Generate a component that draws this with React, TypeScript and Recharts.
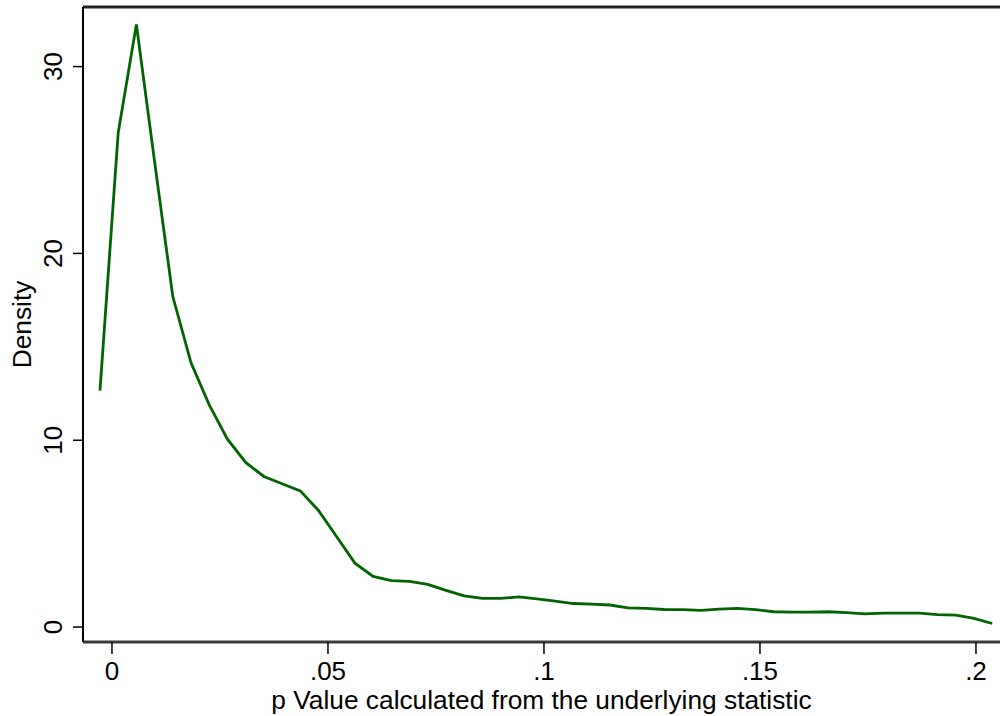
import React from 'react';
import { LineChart, Line, XAxis, YAxis, ReferenceLine } from 'recharts';

// kernel density estimate, 50 evaluation points
const P_VALUES = [
  -0.00278, 0.00144, 0.00565, 0.00987, 0.01408, 0.0183, 0.02251, 0.02673, 0.03094, 0.03516,
  0.03937, 0.04359, 0.0478, 0.05202, 0.05623, 0.06045, 0.06466, 0.06888, 0.07309, 0.07731,
  0.08152, 0.08574, 0.08995, 0.09417, 0.09838, 0.1026, 0.10681, 0.11103, 0.11524, 0.11946,
  0.12367, 0.12789, 0.1321, 0.13632, 0.14053, 0.14475, 0.14896, 0.15318, 0.15739, 0.16161,
  0.16582, 0.17004, 0.17425, 0.17847, 0.18268, 0.1869, 0.19111, 0.19533, 0.19954, 0.20376,
];

const DENSITY = [
  12.66, 26.46, 32.26, 24.9, 17.69, 14.14, 11.89, 10.06, 8.81, 8.06,
  7.67, 7.29, 6.24, 4.83, 3.42, 2.71, 2.48, 2.44, 2.28, 1.96,
  1.67, 1.53, 1.53, 1.61, 1.51, 1.39, 1.26, 1.23, 1.18, 1.03,
  1.0, 0.94, 0.93, 0.89, 0.96, 1.0, 0.93, 0.82, 0.8, 0.8,
  0.82, 0.77, 0.71, 0.75, 0.75, 0.75, 0.67, 0.64, 0.46, 0.19,
];

const X_TICKS = [0, 0.05, 0.1, 0.15, 0.2];
const Y_TICKS = [0, 10, 20, 30];

const X_DOMAIN: [number, number] = [-0.00671, 0.20556];
const Y_DOMAIN: [number, number] = [-0.8, 33.19];

const data = P_VALUES.map((p, i) => ({ p, density: DENSITY[i] }));

const FONT = '"Liberation Sans", Arial, Helvetica, sans-serif';
const FONT_SIZE = 26;

const fmtX = (v: number) => (v === 0 ? '0' : String(v).replace(/^0\./, '.'));

const XTick = (props: any) => {
  const { x, y, payload } = props;
  return (
    <text x={x} y={y} dy={26} textAnchor="middle" fill="#000" fontFamily={FONT} fontSize={FONT_SIZE}>
      {fmtX(payload.value)}
    </text>
  );
};

const YTick = (props: any) => {
  const { x, y, payload } = props;
  const tx = x - 11;
  return (
    <text
      x={tx}
      y={y}
      textAnchor="middle"
      transform={`rotate(-90, ${tx}, ${y})`}
      fill="#000"
      fontFamily={FONT}
      fontSize={FONT_SIZE}
    >
      {payload.value}
    </text>
  );
};

const XTitle = (props: any) => {
  const { x, y, width } = props.viewBox;
  return (
    <text x={x + width / 2} y={y + 67} textAnchor="middle" fill="#000" fontFamily={FONT} fontSize={26.3}>
      p Value calculated from the underlying statistic
    </text>
  );
};

const YTitle = (props: any) => {
  const { x, y, height } = props.viewBox;
  const tx = x + 31;
  const ty = y + height / 2;
  return (
    <text
      x={tx}
      y={ty}
      textAnchor="middle"
      transform={`rotate(-90, ${tx}, ${ty})`}
      fill="#000"
      fontFamily={FONT}
      fontSize={26.3}
    >
      Density
    </text>
  );
};

export default function App() {
  return (
    <div style={{ width: 1000, height: 716, background: '#fff' }}>
      <style>{'body{margin:0}'}</style>
      <LineChart width={1000} height={716} data={data} margin={{ top: 7, right: 0, bottom: 0, left: 0 }}>
        <XAxis
          dataKey="p"
          type="number"
          domain={X_DOMAIN}
          ticks={X_TICKS}
          allowDataOverflow
          height={74}
          tickSize={12}
          tickMargin={0}
          tick={<XTick />}
          tickLine={{ stroke: '#000', strokeWidth: 1.5 }}
          axisLine={{ stroke: '#3a3a3a', strokeWidth: 3 }}
          label={<XTitle />}
        />
        <YAxis
          type="number"
          domain={Y_DOMAIN}
          ticks={Y_TICKS}
          allowDataOverflow
          width={83}
          tickSize={10}
          tickMargin={0}
          tick={<YTick />}
          tickLine={{ stroke: '#000', strokeWidth: 1.5 }}
          axisLine={{ stroke: '#000', strokeWidth: 2 }}
          label={<YTitle />}
        />
        <ReferenceLine y={Y_DOMAIN[1]} stroke="#222" strokeWidth={3} />
        <Line
          type="linear"
          dataKey="density"
          stroke="#006400"
          strokeWidth={2.8}
          dot={false}
          isAnimationActive={false}
        />
      </LineChart>
    </div>
  );
}
